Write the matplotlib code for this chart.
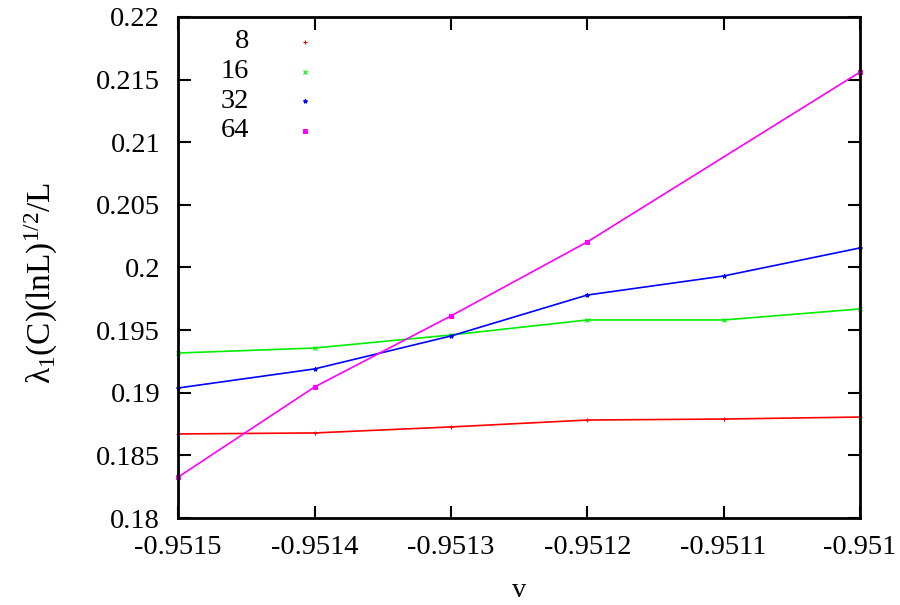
import numpy as np
import matplotlib
matplotlib.use('Agg')
import matplotlib.pyplot as plt
from matplotlib.ticker import FuncFormatter

plt.rcParams['font.family'] = ['Liberation Serif', 'DejaVu Serif']
plt.rcParams['mathtext.fontset'] = 'custom'
plt.rcParams['mathtext.rm'] = 'Liberation Serif'
plt.rcParams['mathtext.it'] = 'Liberation Serif'

# data
v = [-0.9515, -0.9514, -0.9513, -0.9512, -0.9511, -0.9510]
v64 = [-0.9515, -0.9514, -0.9513, -0.9512, -0.9510]
lam_8 = [0.18671, 0.18679, 0.18727, 0.18782, 0.18790, 0.18806]
lam_16 = [0.19317, 0.19357, 0.19461, 0.19581, 0.19581, 0.19669]
lam_32 = [0.19038, 0.19190, 0.19453, 0.19780, 0.19932, 0.20156]
lam_64 = [0.18327, 0.19046, 0.19613, 0.20204, 0.21560]

labels = ['8', '16', '32', '64']
colors = ['#ff0000', '#00ee00', '#0000ff', '#ff00ff']
markers = ['+', 'x', '*', 's']
fs = 20.5

fig = plt.figure(figsize=(9, 6.05), dpi=100)
ax = fig.add_axes([0.198, 0.1438, 0.7576, 0.8282])

series = [(v, lam_8), (v, lam_16), (v, lam_32), (v64, lam_64)]
for (xs, ys), c, m in zip(series, colors, markers):
    ax.plot(xs, ys, color=c, lw=1.2, marker=m, ms=3, mew=0.8, clip_on=False)

ax.set_xlim(-0.9515, -0.9510)
ax.set_ylim(0.18, 0.22)
ax.set_xticks(v)
ax.set_yticks(np.arange(0.18, 0.2201, 0.005))
fmt = FuncFormatter(lambda val, pos: '%g' % round(val, 6))
ax.xaxis.set_major_formatter(fmt)
ax.yaxis.set_major_formatter(fmt)
ax.tick_params(direction='in', length=9, width=1.5, top=True, right=True,
               labelsize=fs)
ax.tick_params(axis='x', pad=12)
ax.tick_params(axis='y', pad=13)
for s in ax.spines.values():
    s.set_linewidth(2)

ax.set_xlabel('v', fontsize=fs)
ax.xaxis.set_label_coords(0.5, -0.12)
ax.set_ylabel(r'$\lambda_1$(C)(lnL)$^{1/2}$/L', fontsize=24)
ax.yaxis.set_label_coords(-0.173, 0.47)

# key: label on the left, point sample on the right
for i, (lab, c, m) in enumerate(zip(labels, colors, markers)):
    yk = 0.950 - i * 0.059
    ax.text(0.104, yk, lab, transform=ax.transAxes, ha='right', va='center', fontsize=fs)
    ax.plot([0.186], [yk], transform=ax.transAxes, color=c, marker=m, ms=3, mew=0.8,
            linestyle='none')

fig.savefig('out.png', dpi=100)
